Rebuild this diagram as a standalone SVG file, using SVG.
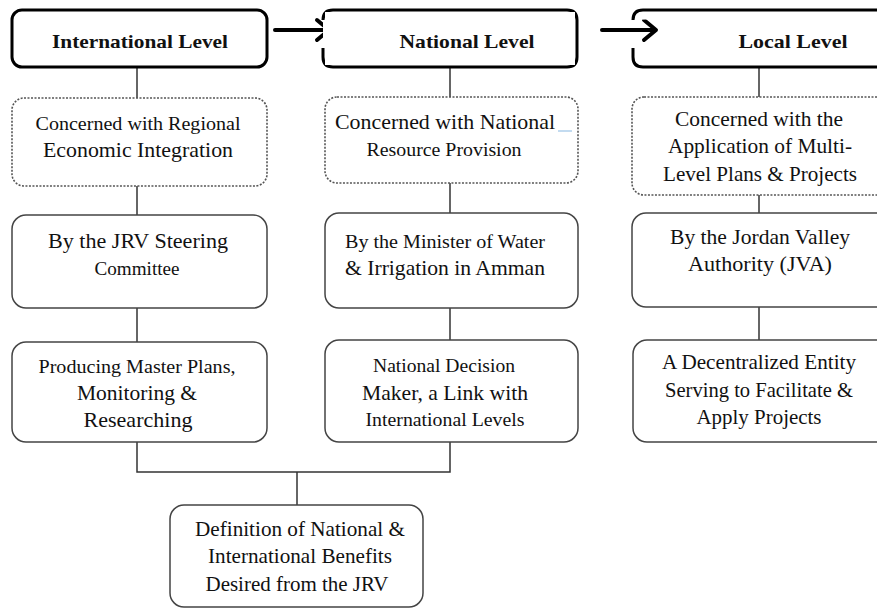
<svg xmlns="http://www.w3.org/2000/svg" width="877" height="608" viewBox="0 0 877 608">
<style>
text{font-family:"Liberation Serif","Times New Roman",serif;fill:#111;text-anchor:middle}
.h{font-weight:bold;font-size:19px}
.t{font-size:21px}
.s{font-size:18px}
.hdr{fill:#fff;stroke:#000;stroke-width:3}
.box{fill:#fff;stroke:#444;stroke-width:1.5}
.dot{fill:#fff;stroke:#555;stroke-width:1.6;stroke-dasharray:2 1.5}
.con{fill:none;stroke:#333;stroke-width:1.5}
.arr{fill:none;stroke:#000;stroke-width:4;stroke-linecap:round;stroke-linejoin:round}
</style>
<rect width="877" height="608" fill="#fff"/>
<g id="connectors">
<line class="con" x1="137" y1="67" x2="137" y2="98"/>
<line class="con" x1="137" y1="186" x2="137" y2="215"/>
<line class="con" x1="137" y1="308" x2="137" y2="342"/>
<line class="con" x1="450" y1="67" x2="450" y2="97"/>
<line class="con" x1="450" y1="183" x2="450" y2="213"/>
<line class="con" x1="450" y1="308" x2="450" y2="340"/>
<line class="con" x1="759" y1="67" x2="759" y2="97"/>
<line class="con" x1="759" y1="195" x2="759" y2="213"/>
<line class="con" x1="759" y1="307" x2="759" y2="340"/>
<polyline class="con" points="137,442 137,472 450,472 450,442"/>
<line class="con" x1="297" y1="472" x2="297" y2="505"/>
<path class="arr" d="M275,30 H328 M317,20 L329,30 L317,40"/>
<path class="arr" d="M602,30 H655 M644,20 L656,30 L644,40"/>
</g>
<g id="intl-level">
<rect class="hdr" x="12" y="10" width="255" height="57" rx="10"/>
<text class="h" x="140" y="48" textLength="176" lengthAdjust="spacingAndGlyphs">International Level</text>
</g>
<g id="natl-level">
<path class="hdr" d="M323,20 Q323,10 333,10 H567 Q577,10 577,20 V57 Q577,67 567,67 H333 Q323,67 323,57 V48"/>
<rect x="325" y="12" width="250" height="53" fill="#fff"/>
<text class="h" x="467" y="48" textLength="135" lengthAdjust="spacingAndGlyphs">National Level</text>
</g>
<g id="local-level">
<path class="hdr" d="M633,20 Q633,10 643,10 H890 M890,67 H643 Q633,67 633,57 V48"/>
<text class="h" x="793" y="48" textLength="109" lengthAdjust="spacingAndGlyphs">Local Level</text>
</g>
<g id="intl-concern">
<rect class="dot" x="12" y="98" width="255" height="88" rx="12"/>
<text class="s" x="138" y="130" textLength="205" lengthAdjust="spacingAndGlyphs">Concerned  with  Regional</text>
<text class="t" x="138" y="157" textLength="190" lengthAdjust="spacingAndGlyphs">Economic Integration</text>
</g>
<g id="natl-concern">
<rect class="dot" x="325" y="97" width="253" height="86" rx="12"/>
<text class="t" x="445" y="129" textLength="220" lengthAdjust="spacingAndGlyphs">Concerned with National</text>
<line x1="558" y1="131" x2="572" y2="131" stroke="#9cc3e6" stroke-width="1.2"/>
<text class="s" x="444" y="156" textLength="155" lengthAdjust="spacingAndGlyphs">Resource  Provision</text>
</g>
<g id="local-concern">
<rect class="dot" x="632" y="97" width="260" height="98" rx="12"/>
<text class="t" x="759" y="126" textLength="168" lengthAdjust="spacingAndGlyphs">Concerned with the</text>
<text class="t" x="760" y="153" textLength="184" lengthAdjust="spacingAndGlyphs">Application of Multi-</text>
<text class="t" x="760" y="181" textLength="194" lengthAdjust="spacingAndGlyphs">Level Plans &amp; Projects</text>
</g>
<g id="intl-by">
<rect class="box" x="12" y="215" width="255" height="93" rx="14"/>
<text class="t" x="138" y="248" textLength="180" lengthAdjust="spacingAndGlyphs">By the JRV Steering</text>
<text class="s" x="137" y="275" textLength="85" lengthAdjust="spacingAndGlyphs">Committee</text>
</g>
<g id="natl-by">
<rect class="box" x="325" y="213" width="253" height="95" rx="14"/>
<text class="s" x="445" y="248" textLength="200" lengthAdjust="spacingAndGlyphs">By the  Minister  of  Water</text>
<text class="t" x="445" y="275" textLength="200" lengthAdjust="spacingAndGlyphs">&amp; Irrigation in Amman</text>
</g>
<g id="local-by">
<rect class="box" x="632" y="213" width="260" height="94" rx="14"/>
<text class="t" x="760" y="244" textLength="180" lengthAdjust="spacingAndGlyphs">By the Jordan Valley</text>
<text class="t" x="760" y="271" textLength="144" lengthAdjust="spacingAndGlyphs">Authority (JVA)</text>
</g>
<g id="intl-role">
<rect class="box" x="12" y="342" width="255" height="100" rx="14"/>
<text class="s" x="137" y="373" textLength="197" lengthAdjust="spacingAndGlyphs">Producing  Master  Plans,</text>
<text class="t" x="137" y="400" textLength="120" lengthAdjust="spacingAndGlyphs">Monitoring &amp;</text>
<text class="t" x="138" y="427" textLength="109" lengthAdjust="spacingAndGlyphs">Researching</text>
</g>
<g id="natl-role">
<rect class="box" x="325" y="340" width="253" height="102" rx="14"/>
<text class="s" x="444" y="372" textLength="142" lengthAdjust="spacingAndGlyphs">National  Decision</text>
<text class="t" x="445" y="400" textLength="166" lengthAdjust="spacingAndGlyphs">Maker, a Link with</text>
<text class="s" x="445" y="426" textLength="159" lengthAdjust="spacingAndGlyphs">International  Levels</text>
</g>
<g id="local-role">
<rect class="box" x="633" y="340" width="260" height="102" rx="14"/>
<text class="t" x="759" y="369" textLength="194" lengthAdjust="spacingAndGlyphs">A Decentralized Entity</text>
<text class="t" x="759" y="397" textLength="188" lengthAdjust="spacingAndGlyphs">Serving to Facilitate &amp;</text>
<text class="t" x="759" y="424" textLength="125" lengthAdjust="spacingAndGlyphs">Apply Projects</text>
</g>
<g id="benefits">
<rect class="box" x="170" y="505" width="253" height="102" rx="14"/>
<text class="t" x="300" y="536" textLength="210" lengthAdjust="spacingAndGlyphs">Definition of National &amp;</text>
<text class="t" x="300" y="563" textLength="184" lengthAdjust="spacingAndGlyphs">International Benefits</text>
<text class="t" x="297" y="591" textLength="183" lengthAdjust="spacingAndGlyphs">Desired from the JRV</text>
</g>
</svg>
